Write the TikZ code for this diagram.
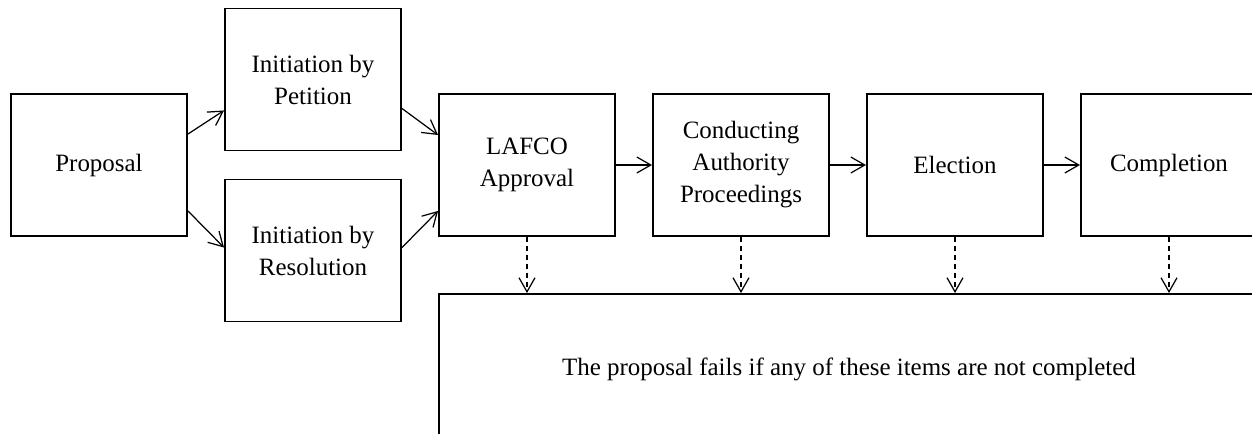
\documentclass[tikz,border=0pt]{standalone}
\usepackage{fontspec}
\setmainfont{Liberation Serif}
\usepackage{tikz}
\usetikzlibrary{arrows.meta, positioning, calc}

\begin{document}
\begin{tikzpicture}[
  node distance=4.28cm,
  font=\fontsize{14.2}{18.2}\selectfont,
  stagebox/.style={rectangle, draw=black, line width=1.1pt, minimum width=3.52cm, minimum height=2.84cm, inner sep=0pt, align=center},
  failbox/.style={rectangle, draw=black, line width=1.1pt, minimum width=16.4cm, minimum height=3cm, inner sep=0pt},
  flow/.style={-{Straight Barb[length=2.8mm, width=3.2mm]}, line width=0.7pt},
  failarrow/.style={-{Straight Barb[length=2.8mm, width=3.2mm]}, line width=0.7pt, dash pattern=on 0.1cm off 0.08cm}
]

\clip (-1.98,3.3) rectangle (23.06,-5.36);

% Start and initiation
\node[stagebox] (prop) {Proposal};
\node[stagebox, right of=prop, yshift=1.71cm] (pet) {Initiation by\\Petition};
\node[stagebox, right of=prop, yshift=-1.71cm] (res) {Initiation by\\Resolution};

% Main steps
\node[stagebox, right of=prop, xshift=4.28cm] (lafco) {LAFCO\\Approval};
\node[stagebox, right of=lafco] (cond) {Conducting\\Authority\\Proceedings};
\node[stagebox, right of=cond] (elec) {Election};
\node[stagebox, right of=elec] (comp) {Completion};

\draw[flow] ([yshift=-0.82cm]prop.north east) -- ([yshift=0.82cm]pet.south west);
\draw[flow] ([yshift=0.52cm]prop.south east) -- ([yshift=-1.38cm]res.north west);
\draw[flow] ([yshift=0.86cm]pet.south east) -- ([yshift=-0.84cm]lafco.north west);
\draw[flow] ([yshift=-1.38cm]res.north east) -- ([yshift=0.52cm]lafco.south west);
\draw[flow] (lafco) -- (cond);
\draw[flow] (cond) -- (elec);
\draw[flow] (elec) -- (comp);

% Failure box
\node[failbox, anchor=north west] (fail) at ([yshift=-1.12cm]lafco.south west) {The proposal fails if any of these items are not completed};

\draw[failarrow] (lafco.south) -- (lafco.south |- fail.north);
\draw[failarrow] (cond.south) -- (cond.south |- fail.north);
\draw[failarrow] (elec.south) -- (elec.south |- fail.north);
\draw[failarrow] (comp.south) -- (comp.south |- fail.north);

\end{tikzpicture}
\end{document}
